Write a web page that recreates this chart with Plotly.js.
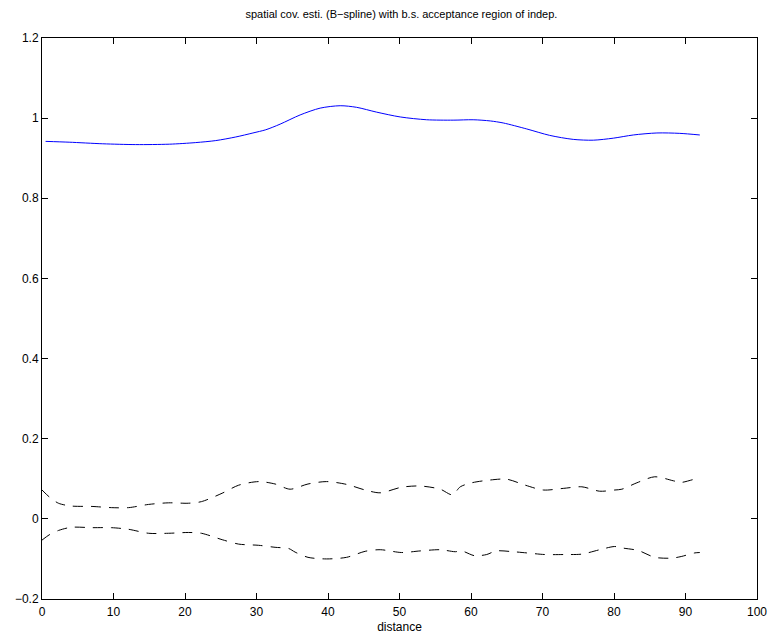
<!DOCTYPE html>
<html>
<head>
<meta charset="utf-8">
<script src="https://cdn.plot.ly/plotly-3.0.1.min.js"></script>
<style>html,body{margin:0;padding:0;background:#fff;}#chart{width:772px;height:639px;}</style>
</head>
<body>
<div id="chart"></div>
<script>
// Estimated spatial covariance (B-spline)
var covX = [0.5, 3.8, 8.5, 13.1, 17.8, 21.5, 24.3, 27.1, 29.5, 31.3, 33.3, 36.1, 38.9, 41.7, 44.0, 46.8, 50.1, 53.8, 57.5, 60.3, 62.7, 64.5, 67.8, 71.0, 74.3, 77.1, 79.9, 82.7, 86.0, 89.2, 92.0];
var covY = [0.942, 0.940, 0.936, 0.934, 0.935, 0.939, 0.944, 0.953, 0.963, 0.971, 0.985, 1.008, 1.025, 1.031, 1.027, 1.015, 1.003, 0.996, 0.995, 0.996, 0.993, 0.988, 0.973, 0.957, 0.947, 0.945, 0.950, 0.958, 0.963, 0.962, 0.958];

// Upper bound of bootstrap acceptance region
var upX = [0.0, 1.0, 2.3, 4.1, 7.0, 9.7, 12.1, 14.9, 17.7, 20.5, 22.3, 25.2, 27.5, 30.3, 32.6, 34.7, 37.2, 39.8, 42.6, 45.2, 47.3, 50.3, 52.9, 55.7, 57.4, 58.5, 60.1, 62.7, 65.0, 67.6, 70.1, 72.9, 75.5, 78.0, 80.1, 81.1, 83.2, 85.7, 88.3, 89.4, 91.3, 92.0];
var upY = [0.072, 0.055, 0.039, 0.032, 0.031, 0.028, 0.028, 0.036, 0.040, 0.039, 0.043, 0.064, 0.084, 0.093, 0.087, 0.074, 0.087, 0.093, 0.086, 0.072, 0.065, 0.079, 0.082, 0.074, 0.060, 0.080, 0.090, 0.097, 0.099, 0.084, 0.072, 0.076, 0.080, 0.069, 0.072, 0.074, 0.090, 0.105, 0.095, 0.091, 0.099, 0.100];

// Lower bound of bootstrap acceptance region
var loX = [0.0, 1.0, 2.3, 4.1, 7.0, 9.7, 12.1, 14.9, 17.7, 20.5, 22.3, 25.2, 27.5, 30.3, 32.6, 34.5, 35.4, 37.2, 39.8, 42.6, 45.2, 47.3, 50.3, 52.9, 55.7, 57.8, 58.7, 60.5, 62.2, 63.5, 65.9, 67.8, 70.3, 73.1, 75.5, 78.0, 80.1, 81.3, 83.4, 85.7, 88.1, 89.4, 91.3, 92.0];
var loY = [-0.053, -0.040, -0.029, -0.021, -0.022, -0.022, -0.026, -0.036, -0.036, -0.034, -0.036, -0.052, -0.063, -0.066, -0.071, -0.074, -0.083, -0.096, -0.100, -0.096, -0.081, -0.077, -0.084, -0.080, -0.077, -0.082, -0.080, -0.092, -0.089, -0.080, -0.082, -0.085, -0.089, -0.089, -0.088, -0.077, -0.069, -0.073, -0.079, -0.096, -0.098, -0.094, -0.085, -0.084];

var xTicks = [0, 10, 20, 30, 40, 50, 60, 70, 80, 90, 100];
var yTicks = [-0.2, 0, 0.2, 0.4, 0.6, 0.8, 1, 1.2];
var yTickText = ['\u22120.2', '0', '0.2', '0.4', '0.6', '0.8', '1', '1.2'];

var traces = [
  {x: covX, y: covY, mode: 'lines', line: {color: '#0000ff', width: 1, shape: 'spline', smoothing: 0.8}, hoverinfo: 'none'},
  {x: upX, y: upY, mode: 'lines', line: {color: '#000000', width: 1, dash: '10px,8px', shape: 'spline', smoothing: 0.8}, hoverinfo: 'none'},
  {x: loX, y: loY, mode: 'lines', line: {color: '#000000', width: 1, dash: '10px,8px', shape: 'spline', smoothing: 0.8}, hoverinfo: 'none'}
];

var axisCommon = {
  showgrid: false, zeroline: false, showline: true, linecolor: '#000', linewidth: 1,
  mirror: 'ticks', ticks: 'inside', ticklen: 6, tickcolor: '#000', tickwidth: 1,
  tickfont: {family: 'Liberation Sans, Arial, sans-serif', size: 12, color: '#000'}
};

var layout = {
  width: 772, height: 639,
  margin: {l: 42, r: 15, t: 38, b: 40},
  paper_bgcolor: '#fff', plot_bgcolor: '#fff',
  showlegend: false,
  font: {family: 'Liberation Sans, Arial, sans-serif', color: '#000'},
  title: {text: 'spatial cov. esti. (B\u2212spline) with b.s. acceptance region of indep.', font: {size: 11, color: '#000'}, x: 0.52, xanchor: 'center', y: 0.978, yanchor: 'middle'},
  xaxis: Object.assign({}, axisCommon, {range: [0, 100], tickvals: xTicks, ticktext: xTicks.map(String),
    ticklabelstandoff: 2,
    title: {text: 'distance', font: {size: 12, color: '#000'}, standoff: 4}}),
  yaxis: Object.assign({}, axisCommon, {range: [-0.2, 1.2], tickvals: yTicks, ticktext: yTickText})
};

Plotly.newPlot('chart', traces, layout, {displayModeBar: false, staticPlot: true});
</script>
</body>
</html>
